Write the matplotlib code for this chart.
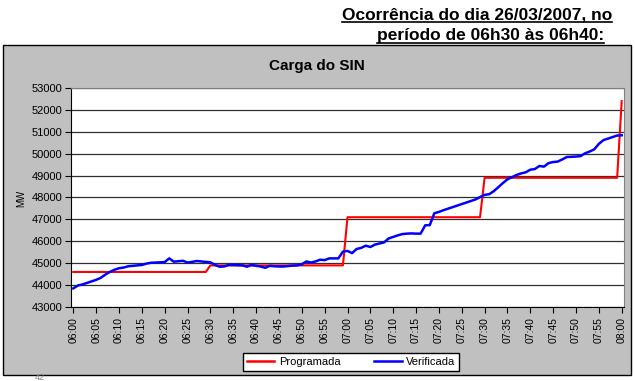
import numpy as np
import matplotlib
matplotlib.use("Agg")
import matplotlib.pyplot as plt
from matplotlib.patches import Rectangle
from matplotlib.lines import Line2D

plt.rcParams['font.family'] = ['Liberation Sans', 'DejaVu Sans']

# minutes from 06:00 to 08:00
minutes = list(range(121))
tick_labels = ['06:00', '06:05', '06:10', '06:15', '06:20', '06:25', '06:30',
               '06:35', '06:40', '06:45', '06:50', '06:55', '07:00', '07:05',
               '07:10', '07:15', '07:20', '07:25', '07:30', '07:35', '07:40',
               '07:45', '07:50', '07:55', '08:00']

# programmed load: step levels and how many minutes each lasts
prog_levels = [44600, 44900, 47100, 48900, 52400]
prog_counts = [30, 30, 30, 30, 1]
programada = []
for lvl, n in zip(prog_levels, prog_counts):
    programada += [lvl] * n

verificada = [
    43850, 43980, 44030, 44100, 44170, 44240, 44330, 44480, 44600, 44700,
    44770, 44800, 44860, 44880, 44900, 44920, 44980, 45020, 45030, 45040,
    45050, 45220, 45070, 45090, 45110, 45030, 45060, 45100, 45080, 45060,
    45040, 44920, 44840, 44850, 44920, 44920, 44910, 44900, 44840, 44920,
    44880, 44850, 44790, 44880, 44860, 44850, 44850, 44870, 44890, 44900,
    44950, 45080, 45030, 45080, 45160, 45140, 45220, 45220, 45220, 45530,
    45560, 45460, 45650, 45700, 45800, 45740, 45850, 45900, 45950, 46130,
    46200, 46270, 46330, 46350, 46360, 46350, 46350, 46730, 46740, 47280,
    47340, 47420, 47490, 47560, 47630, 47700, 47770, 47840, 47910, 48020,
    48120, 48150, 48290, 48470, 48660, 48830, 48930, 49030, 49100, 49150,
    49270, 49300, 49440, 49410, 49570, 49620, 49640, 49740, 49850, 49860,
    49870, 49890, 50020, 50100, 50200, 50450, 50620, 50690, 50760, 50830,
    50840,
]

W, H = 635, 381
fig = plt.figure(figsize=(W / 100, H / 100), dpi=100)
fig.patch.set_facecolor('white')

# grey chart area
fig.patches.append(Rectangle((3 / W, 1 - 375 / H), 628 / W, 330 / H,
                             transform=fig.transFigure, facecolor='#c0c0c0',
                             edgecolor='black', linewidth=1, zorder=-5))

ax = fig.add_axes([71 / W, 1 - 307 / H, 553 / W, 219 / H])
ax.set_zorder(2)
ax.set_facecolor('white')
ax.plot(minutes, programada, color='#ff0000', lw=1.5, label='Programada', zorder=3)
ax.plot(minutes, verificada, color='#0000ff', lw=1.8, label='Verificada', zorder=4)

ax.set_xlim(-0.5, 120.5)
ax.set_ylim(43000, 53000)
ax.set_yticks(np.arange(43000, 53001, 1000))
ax.set_xticks(minutes[::5])
ax.set_xticklabels(tick_labels, rotation=90, fontsize=7.5)
ax.tick_params(axis='y', labelsize=8, length=4, width=0.8, pad=2)
ax.tick_params(axis='x', length=4, width=0.8, pad=3)
ax.grid(axis='y', color='#303030', lw=0.9)
ax.set_axisbelow(True)
for s in ['top', 'right']:
    ax.spines[s].set_color('#808080')
for s in ['left', 'bottom']:
    ax.spines[s].set_color('black')

fig.text(21 / W, 1 - 198 / H, 'MW', rotation=90, fontsize=7,
         ha='center', va='center')
fig.text(317 / W, 1 - 66 / H, 'Carga do SIN', fontsize=11, fontweight='bold',
         ha='center', va='center')

handles = [Line2D([], [], color='#ff0000', lw=1.8),
           Line2D([], [], color='#0000ff', lw=1.8)]
leg = fig.legend(handles, ['Programada', 'Verificada'], ncol=2,
                 loc='center', bbox_to_anchor=(351 / W, 1 - 362 / H),
                 fontsize=8, frameon=True, fancybox=False, borderpad=0.35,
                 handlelength=2.5, columnspacing=3, handletextpad=0.4)
leg.get_frame().set_edgecolor('black')
leg.get_frame().set_linewidth(1)
leg.get_frame().set_alpha(1)
leg.set_zorder(5)

fig.text(40 / W, 1 - 377 / H, '42', fontsize=6.5, color='#888888',
         ha='center', va='center')

# heading with underline
t1 = fig.text(612 / W, 1 - 19 / H, 'Ocorrência do dia 26/03/2007, no',
              fontsize=12.5, fontweight='bold', ha='right', va='baseline')
t2 = fig.text(604 / W, 1 - 40 / H, 'período de 06h30 às 06h40:',
              fontsize=12.5, fontweight='bold', ha='right', va='baseline')
fig.canvas.draw()
r = fig.canvas.get_renderer()
for t, yb in [(t1, 19), (t2, 40)]:
    bb = t.get_window_extent(r)
    yl = 1 - (yb + 2.5) / H
    fig.add_artist(Line2D([bb.x0 / W, bb.x1 / W], [yl, yl],
                          transform=fig.transFigure, color='black', lw=1.2))

fig.savefig('out.png', dpi=100)
